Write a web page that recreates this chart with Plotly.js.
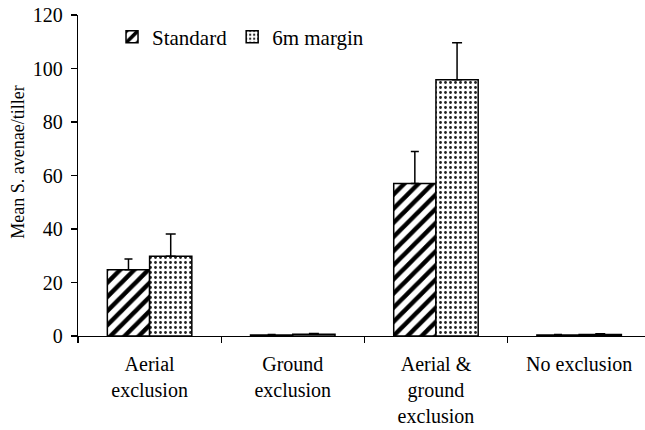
<!DOCTYPE html>
<html>
<head>
<meta charset="utf-8">
<script src="https://cdn.plot.ly/plotly-3.0.1.min.js"></script>
<style>html,body{margin:0;padding:0;background:#fff}#chart{width:645px;height:430px}</style>
</head>
<body>
<div id="chart"></div>
<script>
const categories = ["Aerial<br>exclusion", "Ground<br>exclusion", "Aerial &<br>ground<br>exclusion", "No exclusion"];
const seriesNames = ["Standard", "6m margin"];
const standardValues = [24.8, 0.4, 57, 0.4];
const standardErrors = [4.0, 0.2, 12, 0.2];
const marginValues = [29.8, 0.7, 95.8, 0.6];
const marginErrors = [8.3, 0.2, 13.8, 0.2];
const yTicks = [0, 20, 40, 60, 80, 100, 120];
const yTitle = "Mean S. avenae/tiller";

const font = "Liberation Serif";

const traces = [
  {
    type: "bar", name: seriesNames[0], x: categories, y: standardValues,
    marker: {color: "#ffffff", line: {color: "#000", width: 1.5},
      pattern: {shape: "/", fgcolor: "#000", bgcolor: "#fff", size: 10, solidity: 0.45}},
    error_y: {type: "data", array: standardErrors, arrayminus: standardErrors.map(() => 0), symmetric: false,
      color: "#000", thickness: 1.5, width: 4}
  },
  {
    type: "bar", name: seriesNames[1], x: categories, y: marginValues,
    marker: {color: "#ffffff", line: {color: "#000", width: 1.5},
      pattern: {shape: ".", fgcolor: "#222", bgcolor: "#fff", size: 5, solidity: 0.25}},
    error_y: {type: "data", array: marginErrors, arrayminus: marginErrors.map(() => 0), symmetric: false,
      color: "#000", thickness: 1.5, width: 5}
  }
];

const layout = {
  width: 645, height: 430,
  margin: {l: 78, r: 0, t: 15, b: 94},
  paper_bgcolor: "#fff", plot_bgcolor: "#fff",
  font: {family: font, size: 20, color: "#000"},
  barmode: "group", bargap: 0.41, bargroupgap: 0,
  showlegend: true,
  legend: {orientation: "h", x: 0.06, xanchor: "left", y: 0.995, yanchor: "top",
    font: {family: font, size: 21, color: "#000"}, bgcolor: "rgba(0,0,0,0)", itemwidth: 30},
  xaxis: {
    type: "category", range: [-0.5, 3.46], showline: true, linecolor: "#000", linewidth: 1.2,
    ticks: "outside", tickson: "boundaries", ticklen: 6, tickcolor: "#000", tickwidth: 1.2,
    showgrid: false, zeroline: false, tickfont: {family: font, size: 20, color: "#000"}, tickangle: 0,
    ticklabelstandoff: 10
  },
  yaxis: {
    range: [0, 120], tickvals: yTicks, showline: true, linecolor: "#000", linewidth: 1.2,
    ticks: "outside", ticklen: 6, tickcolor: "#000", tickwidth: 1.2, showgrid: false, zeroline: false,
    tickfont: {family: font, size: 20, color: "#000"}, ticklabelstandoff: 4
  },
  annotations: [{
    text: yTitle, xref: "paper", yref: "paper", x: -60 / 567, y: 0.54,
    xanchor: "center", yanchor: "middle", textangle: -90, showarrow: false,
    font: {family: font, size: 18, color: "#000"}
  }]
};

Plotly.newPlot("chart", traces, layout, {staticPlot: true, displayModeBar: false});
</script>
</body>
</html>
